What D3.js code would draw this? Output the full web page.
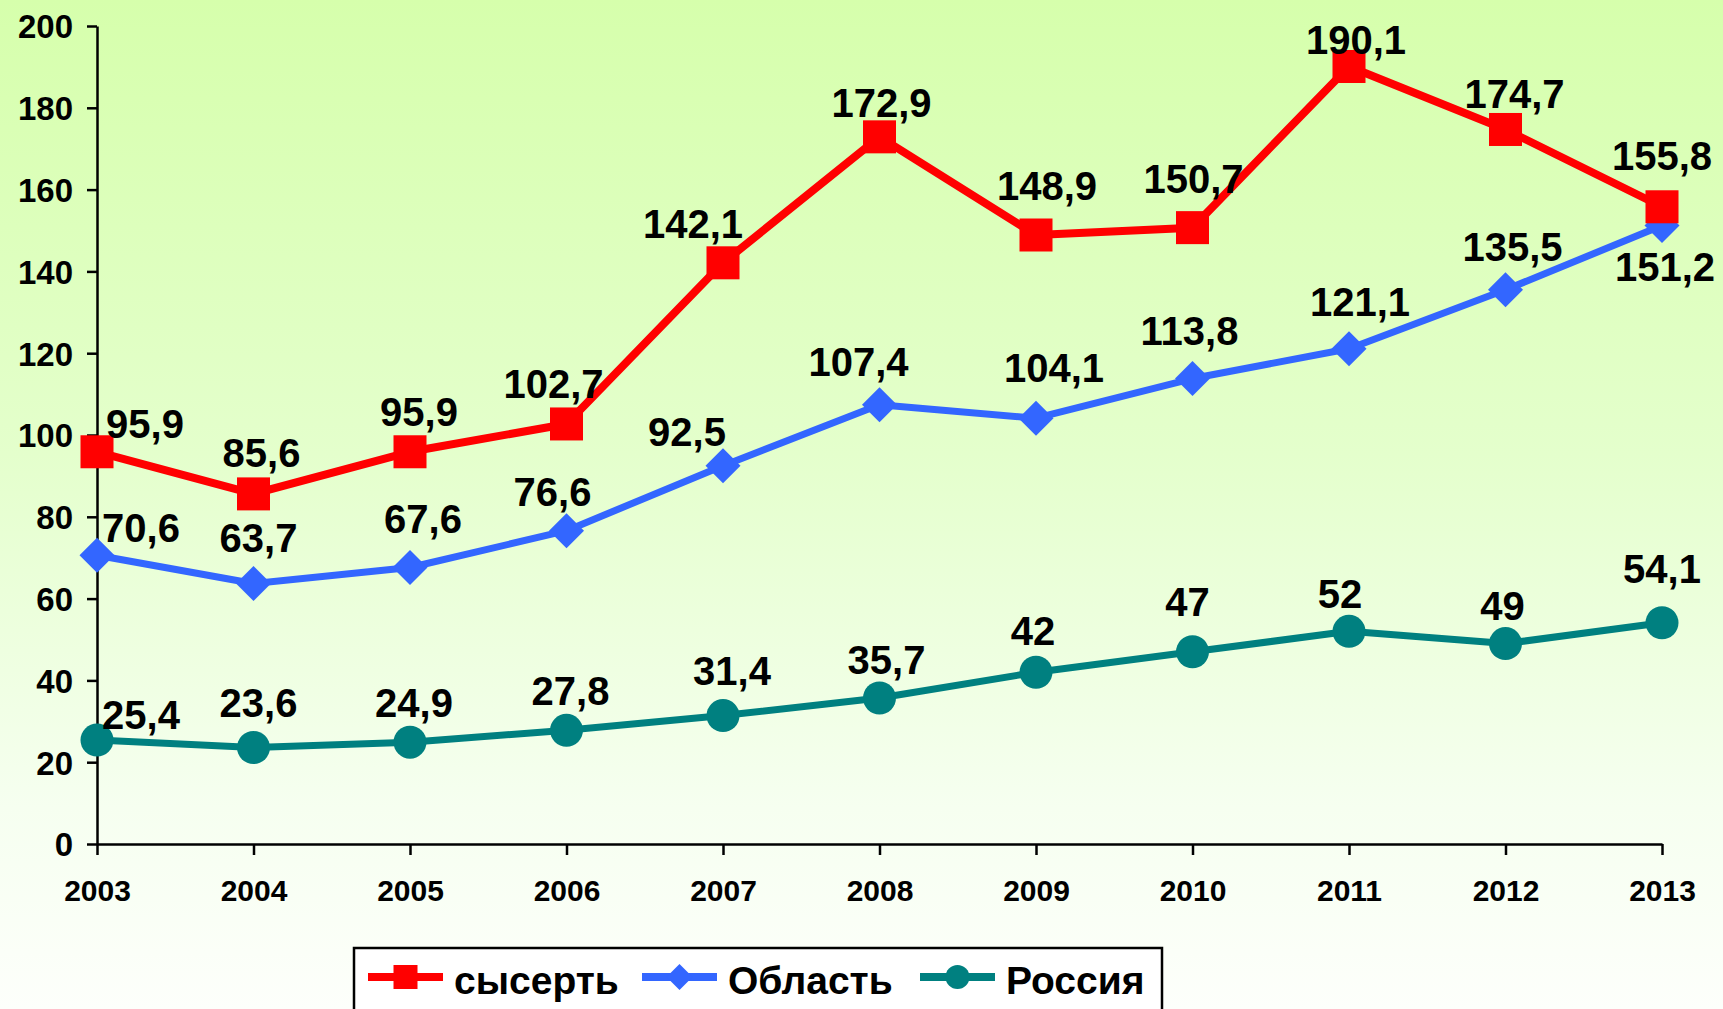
<!DOCTYPE html>
<html>
<head>
<meta charset="utf-8">
<script src="https://cdn.jsdelivr.net/npm/d3@7"></script>
<style>
  html, body { margin: 0; padding: 0; background: #ffffff; }
  svg { display: block; font-family: "Liberation Sans", Arial, sans-serif; font-weight: bold; }
</style>
</head>
<body>
<div id="chart"></div>
<script>
// Data
var years = ["2003", "2004", "2005", "2006", "2007", "2008", "2009", "2010", "2011", "2012", "2013"];
var sysert = [95.9, 85.6, 95.9, 102.7, 142.1, 172.9, 148.9, 150.7, 190.1, 174.7, 155.8];
var oblast = [70.6, 63.7, 67.6, 76.6, 92.5, 107.4, 104.1, 113.8, 121.1, 135.5, 151.2];
var russia = [25.4, 23.6, 24.9, 27.8, 31.4, 35.7, 42, 47, 52, 49, 54.1];
var seriesNames = ["сысерть", "Область", "Россия"];
var yTicks = [0, 20, 40, 60, 80, 100, 120, 140, 160, 180, 200];

// SVG size
var width = 1723;
var height = 1009;

// label nudges (px) so labels sit like in the original
var labelNudge = {
  "сысерть": [[48,-14],[8,-27],[9,-26],[-13,-26],[-30,-25],[2,-20],[11,-35],[1,-35],[7,-12],[9,-21],[0,-37]],
  "Область": [[44,-13],[5,-31],[13,-35],[-14,-25],[-36,-20],[-21,-29],[18,-36],[-3,-34],[11,-33],[7,-29],[3,55]],
  "Россия":  [[44,-11],[5,-30],[4,-25],[4,-25],[9,-31],[7,-24],[-3,-27],[-5,-36],[-9,-23],[-3,-24],[0,-40]]
};

var svg = d3.select("#chart")
  .append("svg")
  .attr("width", width)
  .attr("height", height);

// background gradient
var defs = svg.append("defs");
var grad = defs.append("linearGradient")
  .attr("id", "bg")
  .attr("x1", 0).attr("y1", 0).attr("x2", 0).attr("y2", 1);
grad.append("stop").attr("offset", "0%").attr("stop-color", "#d6ffac");
grad.append("stop").attr("offset", "45%").attr("stop-color", "#e4ffcc");
grad.append("stop").attr("offset", "80%").attr("stop-color", "#f6fff0");
grad.append("stop").attr("offset", "100%").attr("stop-color", "#fdfffb");

svg.append("rect")
  .attr("width", width)
  .attr("height", height)
  .attr("fill", "url(#bg)");

// scales
var xScale = d3.scalePoint()
  .domain(years)
  .range([97, 1662]);

var yScale = d3.scaleLinear()
  .domain([0, 200])
  .range([844, 26]);

// y axis
var yAxis = d3.axisLeft(yScale)
  .tickValues(yTicks)
  .tickSize(10)
  .tickSizeOuter(0)
  .tickPadding(14);

var yG = svg.append("g")
  .attr("transform", "translate(97,0)")
  .call(yAxis);
yG.select(".domain").attr("stroke", "#000").attr("stroke-width", 2.5);
yG.selectAll(".tick line").attr("stroke", "#000").attr("stroke-width", 2.5);
yG.selectAll(".tick text")
  .attr("fill", "#000")
  .attr("font-size", 33)
  .attr("font-family", "Liberation Sans, Arial, sans-serif")
  .attr("font-weight", "bold")
  .attr("dy", "0.36em");

// x axis
var xAxis = d3.axisBottom(xScale)
  .tickSize(11)
  .tickSizeOuter(0)
  .tickPadding(25);

var xG = svg.append("g")
  .attr("transform", "translate(0,844)")
  .call(xAxis);
xG.select(".domain").attr("stroke", "#000").attr("stroke-width", 2.5);
xG.selectAll(".tick line").attr("stroke", "#000").attr("stroke-width", 2.5);
xG.selectAll(".tick text")
  .attr("fill", "#000")
  .attr("font-size", 30)
  .attr("font-family", "Liberation Sans, Arial, sans-serif")
  .attr("font-weight", "bold");

// series
var series = [
  { name: seriesNames[0], values: sysert, color: "#ff0000", width: 8, marker: "square" },
  { name: seriesNames[1], values: oblast, color: "#3366ff", width: 7, marker: "diamond" },
  { name: seriesNames[2], values: russia, color: "#008080", width: 7, marker: "circle" }
];

var line = d3.line()
  .x(function(d, i) { return xScale(years[i]); })
  .y(function(d) { return yScale(d); });

function drawMarker(g, type, x, y, s, color) {
  if (type === "square") {
    g.append("rect")
      .attr("x", x - s / 2).attr("y", y - s / 2)
      .attr("width", s).attr("height", s)
      .attr("fill", color);
  } else if (type === "diamond") {
    var h = s / 2 + 1;
    g.append("path")
      .attr("d", "M" + x + "," + (y - h) + "L" + (x + h) + "," + y + "L" + x + "," + (y + h) + "L" + (x - h) + "," + y + "Z")
      .attr("fill", color);
  } else {
    g.append("circle")
      .attr("cx", x).attr("cy", y).attr("r", s / 2)
      .attr("fill", color);
  }
}

// draw from the bottom series up so red sits on top
series.slice().reverse().forEach(function(s) {
  var g = svg.append("g").attr("class", "series");
  g.append("path")
    .datum(s.values)
    .attr("d", line)
    .attr("fill", "none")
    .attr("stroke", s.color)
    .attr("stroke-width", s.width)
    .attr("stroke-linejoin", "round");
  s.values.forEach(function(v, i) {
    drawMarker(g, s.marker, xScale(years[i]), yScale(v), 33, s.color);
  });
});

// data labels
series.forEach(function(s) {
  svg.append("g")
    .selectAll("text")
    .data(s.values)
    .enter()
    .append("text")
    .attr("x", function(d, i) { return xScale(years[i]) + labelNudge[s.name][i][0]; })
    .attr("y", function(d, i) { return yScale(d) + labelNudge[s.name][i][1]; })
    .attr("text-anchor", "middle")
    .attr("font-size", 40)
    .attr("fill", "#000")
    .text(function(d) { return String(d).replace(".", ","); });
});

// legend
var legend = svg.append("g").attr("class", "legend");
legend.append("rect")
  .attr("x", 354).attr("y", 948)
  .attr("width", 808).attr("height", 80)
  .attr("fill", "#ffffff")
  .attr("stroke", "#000")
  .attr("stroke-width", 2.5);

var legendX = [368, 642, 920];
series.forEach(function(s, i) {
  var lx = legendX[i];
  var ly = 977;
  legend.append("line")
    .attr("x1", lx).attr("x2", lx + 75)
    .attr("y1", ly).attr("y2", ly)
    .attr("stroke", s.color)
    .attr("stroke-width", 8);
  drawMarker(legend, s.marker, lx + 37.5, ly, 24, s.color);
  legend.append("text")
    .attr("x", lx + 86)
    .attr("y", 994)
    .attr("font-size", 39)
    .attr("fill", "#000")
    .text(s.name);
});
</script>
</body>
</html>
